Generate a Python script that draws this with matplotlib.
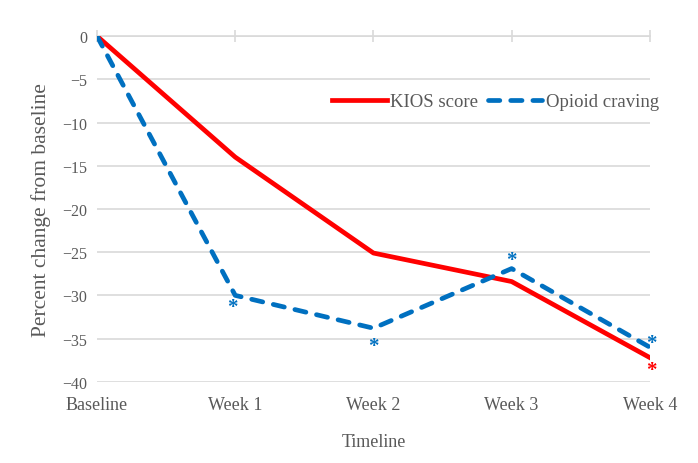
import matplotlib
matplotlib.use("Agg")
import matplotlib.pyplot as plt

plt.rcParams['font.family'] = ['Liberation Serif', 'DejaVu Serif']

# data
timepoints = ["Baseline", "Week 1", "Week 2", "Week 3", "Week 4"]
kios = [0, -14.0, -25.1, -28.4, -37.2]
craving = [0, -30.0, -33.8, -26.9, -36.0]
# points flagged with an asterisk
craving_sig = [1, 2, 3, 4]
kios_sig = [4]

TEXT = '#595959'
GRID = '#d9d9d9'
RED = '#ff0000'
BLUE = '#0070c0'

fig = plt.figure(figsize=(6.98, 4.64), dpi=100)
ax = fig.add_axes([0.139, 0.175, 0.792, 0.745])

x = list(range(len(timepoints)))
ax.plot(x, kios, color=RED, lw=3.4, label="KIOS score", zorder=3)
ax.plot(x, craving, color=BLUE, lw=3.4, ls=(0, (2.4, 2.3)), dash_capstyle='round',
        label="Opioid craving", zorder=3)

# asterisks
offs = {1: (-0.02, -1.3), 2: (0, -2.0), 3: (0, 1.0), 4: (0.01, 0.5)}
for i in craving_sig:
    dx, dy = offs[i]
    ax.text(x[i] + dx, craving[i] + dy, "*", color=BLUE, fontsize=15,
            ha='center', va='center', fontweight='bold')
for i in kios_sig:
    ax.text(x[i] + 0.01, kios[i] - 1.4, "*", color=RED, fontsize=15,
            ha='center', va='center', fontweight='bold')

ax.set_xlim(0, 4)
ax.set_ylim(-40, 0)
ax.set_yticks(range(-40, 1, 5))
ax.set_xticks(x)
ax.set_xticklabels(timepoints)
ax.yaxis.grid(True, color=GRID, lw=1.2)
ax.set_axisbelow(True)

for s in ['left', 'right', 'bottom']:
    ax.spines[s].set_visible(False)
ax.spines['top'].set_color(GRID)
ax.spines['top'].set_linewidth(1.2)

ax.tick_params(axis='x', top=True, bottom=False, labeltop=False, labelbottom=True,
               direction='inout', length=9, width=1.2, color=GRID,
               labelcolor=TEXT, labelsize=13, pad=6)
ax.tick_params(axis='y', length=0, labelcolor=TEXT, labelsize=11.5, pad=7)

ax.set_xlabel("Timeline", color=TEXT, fontsize=13, labelpad=14)
ax.set_ylabel("Percent change from baseline", color=TEXT, fontsize=15.5, labelpad=8)

ax.legend(loc='center right', bbox_to_anchor=(1.03, 0.81), ncol=2, frameon=False,
          fontsize=13.5, labelcolor=TEXT, handlelength=2.9, handletextpad=0.2,
          columnspacing=0.5, borderaxespad=0)

fig.savefig("out.png", dpi=100)
